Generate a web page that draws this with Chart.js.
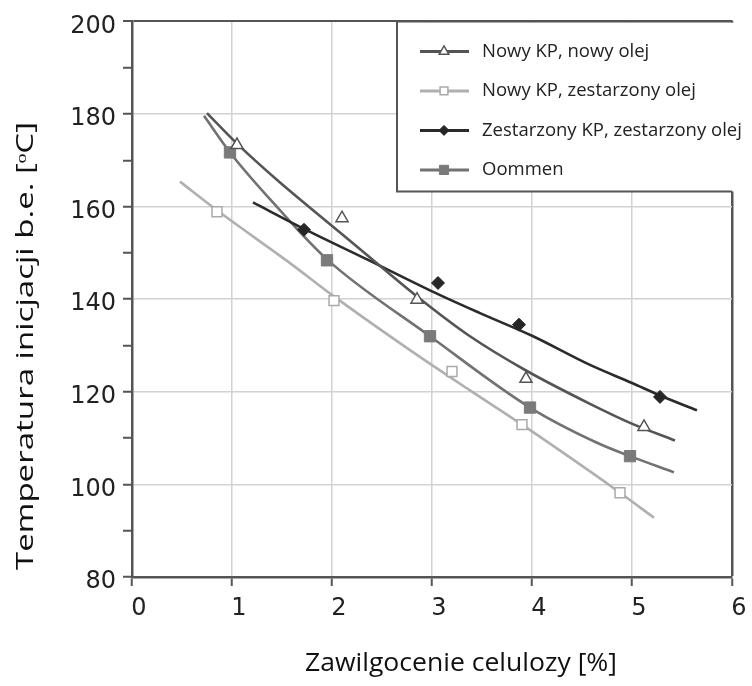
<!DOCTYPE html>
<html>
<head>
<meta charset="utf-8">
<script src="https://cdn.jsdelivr.net/npm/chart.js@4/dist/chart.umd.min.js"></script>
<style>
  html, body { margin: 0; background: #fff; }
  #wrap { position: relative; width: 752px; height: 686px; }
</style>
</head>
<body>
<div id="wrap"><canvas id="chart" width="752" height="686"></canvas></div>
<script>
// Measured points (markers)
const nnMarkX = [1.05, 2.10, 2.85, 3.94, 5.12];
const nnMarkY = [173.3, 157.5, 139.9, 122.8, 112.4];
const nzMarkX = [0.85, 2.02, 3.20, 3.90, 4.88];
const nzMarkY = [158.9, 139.7, 124.4, 112.9, 98.2];
const zzMarkX = [1.72, 3.06, 3.87, 5.28];
const zzMarkY = [155.0, 143.5, 134.5, 118.9];
const oomMarkX = [0.98, 1.95, 2.98, 3.98, 4.98];
const oomMarkY = [171.7, 148.4, 132.0, 116.6, 106.1];

// Fitted curves
const nnCurveX = [0.75, 1.05, 1.48, 1.98, 2.38, 2.85, 3.38, 3.94, 4.58, 4.98, 5.43];
const nnCurveY = [180.2, 173.6, 165.2, 156.2, 149.0, 140.6, 132.0, 124.6, 117.4, 113.3, 109.5];
const nzCurveX = [0.48, 0.85, 1.58, 2.02, 2.82, 3.38, 3.90, 4.58, 4.88, 5.22];
const nzCurveY = [165.4, 159.2, 147.8, 140.6, 128.4, 120.3, 112.9, 102.8, 98.2, 92.8];
const zzCurveX = [1.21, 1.72, 2.35, 3.00, 3.48, 4.00, 4.58, 5.00, 5.28, 5.65];
const zzCurveY = [160.9, 155.2, 148.6, 141.7, 137.0, 132.1, 125.8, 121.9, 119.2, 116.0];
const oomCurveX = [0.72, 0.98, 1.38, 1.95, 2.98, 3.98, 4.65, 4.98, 5.42];
const oomCurveY = [179.6, 171.7, 161.6, 148.6, 132.0, 116.6, 109.0, 106.1, 102.6];

const seriesLabels = ['Nowy KP, nowy olej', 'Nowy KP, zestarzony olej', 'Zestarzony KP, zestarzony olej', 'Oommen'];
const xTitle = 'Zawilgocenie celulozy [%]';
const yTitle = 'Temperatura inicjacji b.e. [ᵒC]';

const lineColors = ['#555555', '#b0b0b0', '#2b2b2b', '#727272'];
const markStyles = [
  { pointStyle: 'triangle', pointRadius: 7, pointBackgroundColor: '#fff', pointBorderColor: '#555555', pointBorderWidth: 1.5 },
  { pointStyle: 'rect', pointRadius: 7, pointBackgroundColor: '#fff', pointBorderColor: '#aaaaaa', pointBorderWidth: 1.5 },
  { pointStyle: 'rectRot', pointRadius: 6.5, pointBackgroundColor: '#262626', pointBorderColor: '#262626', pointBorderWidth: 1 },
  { pointStyle: 'rect', pointRadius: 8, pointBackgroundColor: '#7a7a7a', pointBorderColor: '#7a7a7a', pointBorderWidth: 1 }
];

const pts = (xs, ys) => xs.map((x, i) => ({ x, y: ys[i] }));

const curves = [pts(nnCurveX, nnCurveY), pts(nzCurveX, nzCurveY), pts(zzCurveX, zzCurveY), pts(oomCurveX, oomCurveY)];
const marks = [pts(nnMarkX, nnMarkY), pts(nzMarkX, nzMarkY), pts(zzMarkX, zzMarkY), pts(oomMarkX, oomMarkY)];

const datasets = [];
curves.forEach((c, i) => {
  datasets.push({
    label: seriesLabels[i] + ' (fit)',
    data: c,
    borderColor: lineColors[i],
    borderWidth: 2.6,
    pointRadius: 0,
    fill: false,
    cubicInterpolationMode: 'monotone',
    order: 2
  });
});
marks.forEach((m, i) => {
  datasets.push({
    label: seriesLabels[i],
    data: m,
    showLine: false,
    ...markStyles[i],
    order: 1
  });
});

const AXIS = '#555';
const GRID = '#d2d2d2';

// draws text centred at (0,0) stretched along its direction to a given length
function fitText(ctx, text, len) {
  const w = ctx.measureText(text).width;
  ctx.scale(len / w, 1);
  ctx.fillText(text, 0, 0);
}

// legend box + axis titles
const decorations = {
  id: 'decorations',
  afterDraw(chart) {
    const { ctx, chartArea: a } = chart;
    ctx.save();

    // legend box in the top-right corner
    const lx = a.right - 335, ly = a.top, lb = a.top + 170;
    ctx.fillStyle = '#fff';
    ctx.fillRect(lx, ly + 1, chart.width - lx, lb - ly - 1);
    ctx.strokeStyle = AXIS;
    ctx.lineWidth = 2;
    ctx.beginPath();
    ctx.moveTo(lx, ly);
    ctx.lineTo(lx, lb);
    ctx.lineTo(a.right, lb);
    ctx.moveTo(lx, ly);
    ctx.lineTo(a.right + 1, ly);
    ctx.stroke();

    ctx.font = '18.5px "Open Sans"';
    ctx.textBaseline = 'middle';
    ctx.textAlign = 'left';
    seriesLabels.forEach((lab, i) => {
      const y = ly + 30 + i * 39.5;
      ctx.strokeStyle = lineColors[i];
      ctx.lineWidth = 3;
      ctx.beginPath();
      ctx.moveTo(lx + 23, y);
      ctx.lineTo(lx + 72, y);
      ctx.stroke();
      const s = markStyles[i];
      ctx.fillStyle = s.pointBackgroundColor;
      ctx.strokeStyle = s.pointBorderColor;
      ctx.lineWidth = s.pointBorderWidth;
      Chart.helpers.drawPoint(ctx, { pointStyle: s.pointStyle, radius: s.pointRadius - 1.5, rotation: 0, borderWidth: s.pointBorderWidth }, lx + 47, y);
      ctx.fillStyle = '#222';
      ctx.fillText(lab, lx + 85, y);
    });

    // axis titles
    ctx.fillStyle = '#111';
    ctx.textAlign = 'center';
    ctx.font = '26px "Open Sans"';
    ctx.save();
    ctx.translate(461, 664);
    fitText(ctx, xTitle, 312);
    ctx.restore();

    ctx.font = '24px "Open Sans"';
    ctx.translate(26, 346);
    ctx.rotate(-Math.PI / 2);
    fitText(ctx, yTitle, 448);
    ctx.restore();
  }
};

new Chart(document.getElementById('chart'), {
  type: 'line',
  data: { datasets },
  options: {
    responsive: false,
    animation: false,
    layout: { padding: { top: 18, right: 20, left: 0, bottom: 0 } },
    plugins: { legend: { display: false }, tooltip: { enabled: false } },
    scales: {
      x: {
        type: 'linear',
        min: 0, max: 6,
        ticks: { stepSize: 1, color: '#222', font: { family: 'DejaVu Sans', size: 24 }, padding: 8, labelOffset: 7, maxRotation: 0 },
        grid: {
          color: c => c.tick.value === 6 ? AXIS : GRID,
          lineWidth: c => c.tick.value === 6 ? 2.5 : 1.5,
          tickColor: AXIS, tickLength: 9, tickWidth: 2
        },
        border: { color: AXIS, width: 2.5 },
        afterFit: s => { s.height = 109; }
      },
      y: {
        min: 80, max: 200,
        ticks: {
          stepSize: 10, color: '#222', font: { family: 'DejaVu Sans', size: 24 }, padding: 7, labelOffset: 5,
          callback: v => v % 20 === 0 ? v : ''
        },
        grid: {
          color: c => c.tick.value === 200 ? AXIS : (c.tick.value % 20 ? 'rgba(0,0,0,0)' : GRID),
          lineWidth: c => c.tick.value === 200 ? 2 : 1.5,
          tickColor: AXIS, tickLength: 9, tickWidth: 2
        },
        border: { color: AXIS, width: 2.5 },
        afterFit: s => { s.width = 132; }
      }
    }
  },
  plugins: [decorations]
});
</script>
</body>
</html>
